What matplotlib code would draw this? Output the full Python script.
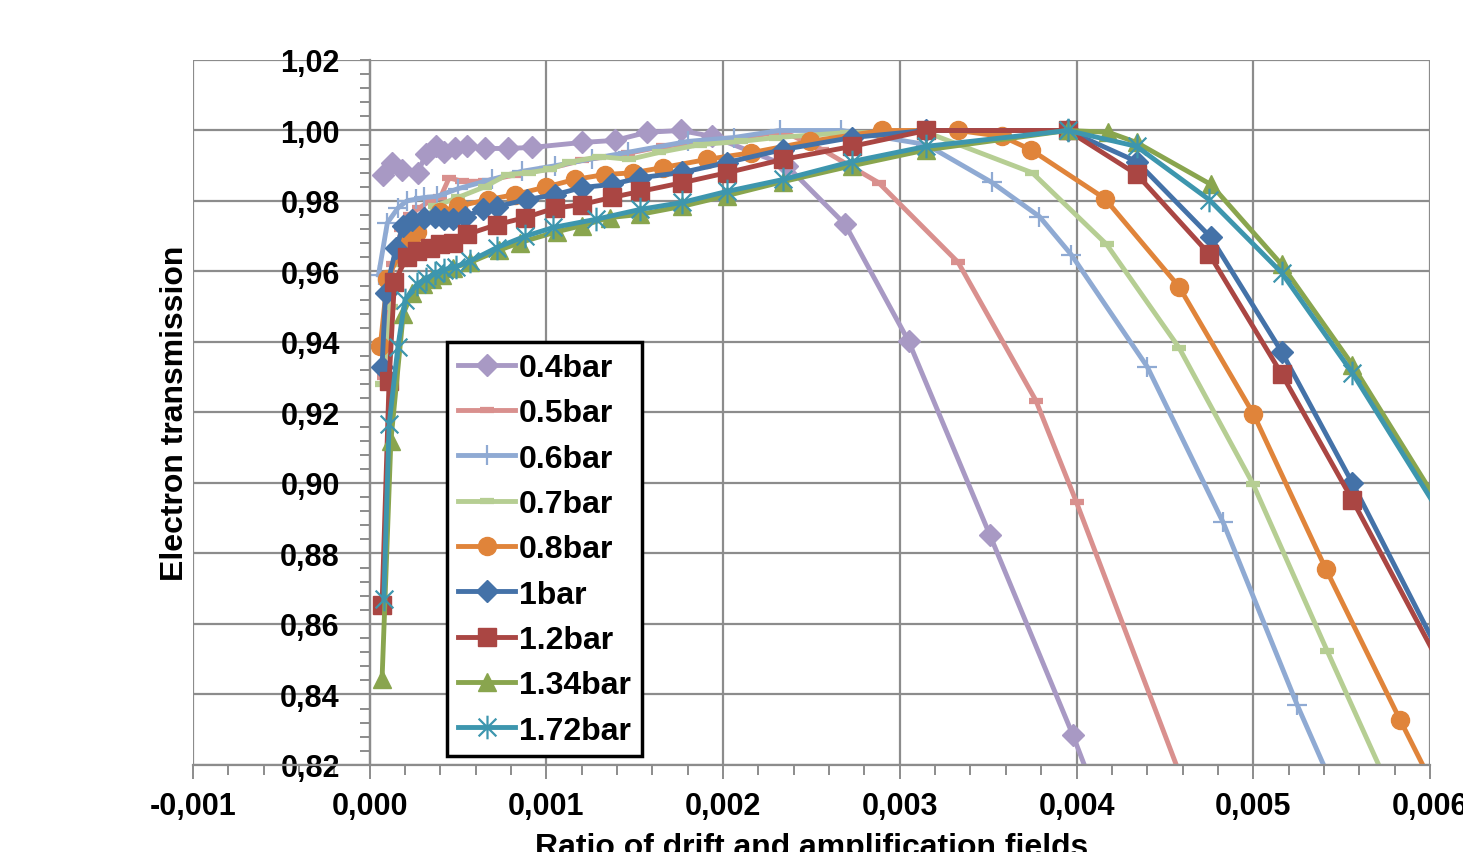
import numpy as np
import matplotlib.pyplot as plt
from matplotlib.path import Path
from matplotlib.ticker import MultipleLocator, FuncFormatter

plt.rcParams['font.family'] = ['Liberation Sans', 'DejaVu Sans']
plt.rcParams['font.weight'] = 'bold'

# x values in units of 1e-3 (ratio of drift and amplification fields)
x_04 = [0.074, 0.124, 0.181, 0.271, 0.317, 0.373, 0.419, 0.481, 0.549, 0.65, 0.78, 0.92,
        1.20, 1.39, 1.57, 1.76, 1.94, 2.36, 2.69, 3.05, 3.51, 3.98, 4.19]
y_04 = [0.9875, 0.9909, 0.9889, 0.9878, 0.9932, 0.9955, 0.9940, 0.9949, 0.9955, 0.9949, 0.9949, 0.9952,
        0.9966, 0.9972, 0.9995, 1.0000, 0.9983, 0.9900, 0.9734, 0.9402, 0.8852, 0.8284, 0.8009]

x_05 = [0.08, 0.13, 0.18, 0.23, 0.28, 0.34, 0.40, 0.45, 0.52, 0.65, 0.83, 1.00, 1.20, 1.46,
        1.66, 2.04, 2.34, 2.56, 2.88, 3.33, 3.77, 4.00, 4.80]
y_05 = [0.930, 0.962, 0.972, 0.976, 0.978, 0.980, 0.981, 0.9866, 0.9856, 0.9856, 0.9875, 0.9890, 0.9915, 0.9935,
        0.9955, 0.9975, 0.9997, 0.9946, 0.9852, 0.9626, 0.9234, 0.8945, 0.789]

x_06 = [0.05, 0.10, 0.16, 0.21, 0.26, 0.31, 0.38, 0.50, 0.69, 0.86, 1.05, 1.26, 1.46, 1.80,
        2.06, 2.32, 2.67, 3.15, 3.52, 3.79, 3.97, 4.40, 4.83, 5.25, 5.60]
y_06 = [0.959, 0.9738, 0.978, 0.980, 0.9805, 0.981, 0.9813, 0.9835, 0.9861, 0.9884, 0.990, 0.992, 0.9938, 0.9969,
        0.998, 1.000, 1.000, 0.996, 0.9853, 0.9756, 0.9648, 0.933, 0.8888, 0.8369, 0.797]

x_07 = [0.07, 0.12, 0.18, 0.25, 0.37, 0.50, 0.65, 0.78, 0.90, 1.02, 1.13, 1.30, 1.47, 1.64,
        1.87, 2.10, 2.30, 2.70, 3.15, 3.75, 4.17, 4.58, 5.00, 5.42, 5.84]
y_07 = [0.928, 0.950, 0.962, 0.970, 0.9785, 0.981, 0.984, 0.9875, 0.988, 0.989, 0.991, 0.9926, 0.9918, 0.9938,
        0.996, 0.9969, 0.998, 0.9994, 0.9995, 0.9880, 0.9677, 0.9384, 0.8996, 0.8522, 0.8056]

x_08 = [0.06, 0.10, 0.21, 0.27, 0.40, 0.50, 0.67, 0.82, 1.00, 1.16, 1.33, 1.49, 1.66, 1.91,
        2.16, 2.49, 2.90, 3.33, 3.58, 3.74, 4.16, 4.58, 5.00, 5.41, 5.83, 6.20]
y_08 = [0.9388, 0.958, 0.969, 0.9713, 0.977, 0.9785, 0.9804, 0.9818, 0.984, 0.9861, 0.9875, 0.988, 0.9895, 0.9918,
        0.9937, 0.9969, 1.000, 1.000, 0.9983, 0.9946, 0.9807, 0.9557, 0.9197, 0.8757, 0.8329, 0.796]

x_10 = [0.07, 0.09, 0.15, 0.19, 0.24, 0.31, 0.37, 0.42, 0.47, 0.54, 0.64, 0.72, 0.89, 1.05,
        1.20, 1.37, 1.53, 1.77, 2.02, 2.34, 2.73, 3.15, 3.95, 4.34, 4.76, 5.16, 5.56, 6.36]
y_10 = [0.933, 0.954, 0.9668, 0.9728, 0.9747, 0.9753, 0.9756, 0.9748, 0.9748, 0.9756, 0.9776, 0.9784, 0.9804, 0.9818,
        0.9838, 0.9847, 0.9866, 0.9881, 0.9909, 0.9946, 0.998, 1.000, 1.000, 0.9912, 0.9697, 0.9373, 0.9001, 0.8217]

x_12 = [0.07, 0.11, 0.14, 0.21, 0.27, 0.34, 0.40, 0.47, 0.55, 0.72, 0.88, 1.05, 1.20, 1.37,
        1.53, 1.77, 2.02, 2.34, 2.73, 3.15, 3.95, 4.34, 4.75, 5.16, 5.56, 6.36]
y_12 = [0.8655, 0.929, 0.957, 0.964, 0.9657, 0.9668, 0.9677, 0.968, 0.9705, 0.9733, 0.9753, 0.978, 0.979, 0.981,
        0.9827, 0.9852, 0.988, 0.9918, 0.9955, 1.000, 1.000, 0.9876, 0.965, 0.931, 0.8953, 0.8201]

x_134 = [0.07, 0.12, 0.19, 0.24, 0.30, 0.35, 0.41, 0.47, 0.57, 0.73, 0.85, 1.06, 1.20, 1.36,
         1.53, 1.77, 2.02, 2.34, 2.73, 3.15, 3.95, 4.18, 4.34, 4.76, 5.16, 5.56, 6.36]
y_134 = [0.8443, 0.912, 0.948, 0.954, 0.9565, 0.958, 0.959, 0.961, 0.9626, 0.966, 0.9682, 0.9713, 0.973, 0.9753,
         0.9762, 0.9785, 0.9815, 0.9855, 0.990, 0.9945, 1.000, 0.9995, 0.9966, 0.9847, 0.962, 0.9336, 0.869]

x_172 = [0.08, 0.11, 0.16, 0.20, 0.27, 0.32, 0.37, 0.42, 0.49, 0.57, 0.72, 0.88, 1.04, 1.28,
         1.53, 1.77, 2.02, 2.34, 2.73, 3.15, 3.95, 4.34, 4.75, 5.16, 5.56, 6.36]
y_172 = [0.867, 0.9166, 0.9387, 0.952, 0.9565, 0.958, 0.9595, 0.9605, 0.9614, 0.963, 0.9668, 0.970, 0.9725, 0.9748,
         0.9776, 0.9796, 0.9827, 0.9861, 0.9912, 0.9955, 1.000, 0.9955, 0.9804, 0.9597, 0.9313, 0.867]

labels = ['0.4bar', '0.5bar', '0.6bar', '0.7bar', '0.8bar', '1bar', '1.2bar', '1.34bar', '1.72bar']
colors = ['#A899C4', '#D9908E', '#8FAAD3', '#B6CE93', '#E0843A', '#4472A8', '#AA4643', '#89A54E', '#3D96AE']

# asterisk-like marker (x plus vertical bar)
star = Path([(0, -1), (0, 1), (-0.75, -0.75), (0.75, 0.75), (-0.75, 0.75), (0.75, -0.75)],
            [Path.MOVETO, Path.LINETO, Path.MOVETO, Path.LINETO, Path.MOVETO, Path.LINETO])

styles = [
    dict(marker='D', ms=11),
    dict(marker='_', ms=10, mew=4.5),
    dict(marker='+', ms=15, mew=1.6),
    dict(marker='_', ms=10, mew=4.5),
    dict(marker='o', ms=13),
    dict(marker='D', ms=11),
    dict(marker='s', ms=13),
    dict(marker='^', ms=13),
    dict(marker=star, ms=17, mew=1.6),
]

series = [(x_04, y_04), (x_05, y_05), (x_06, y_06), (x_07, y_07), (x_08, y_08),
          (x_10, y_10), (x_12, y_12), (x_134, y_134), (x_172, y_172)]

fig = plt.figure(figsize=(14.63, 8.53), dpi=100)
ax = fig.add_axes([0.1319, 0.1020, 0.8455, 0.8265])

for (xs, ys), lab, col, st in zip(series, labels, colors, styles):
    ax.plot(np.array(xs) * 1e-3, ys, color=col, lw=3.5, label=lab,
            mfc=col, mec=col, solid_joinstyle='round', **st)

ax.set_xlim(-0.001, 0.006)
ax.set_ylim(0.82, 1.02)

ax.xaxis.set_major_locator(MultipleLocator(0.001))
ax.xaxis.set_minor_locator(MultipleLocator(0.0002))
ax.yaxis.set_major_locator(MultipleLocator(0.02))
ax.yaxis.set_minor_locator(MultipleLocator(0.004))
ax.xaxis.set_major_formatter(FuncFormatter(lambda v, p: f"{v:.3f}".replace('.', ',')))
ax.yaxis.set_major_formatter(FuncFormatter(lambda v, p: f"{v:.2f}".replace('.', ',')))

grid_col = '#8C8C8C'
ax.grid(True, which='major', color=grid_col, lw=1.6, zorder=0)
ax.set_axisbelow(True)
ax.spines['top'].set_visible(False)
ax.spines['right'].set_visible(False)
ax.spines['left'].set_position(('data', 0))
for s in ['left', 'bottom']:
    ax.spines[s].set_color(grid_col)
    ax.spines[s].set_linewidth(1.6)

ax.tick_params(axis='both', which='both', direction='out', color=grid_col, width=1.4,
               labelsize=22, labelcolor='black')
ax.tick_params(axis='x', which='major', length=10, pad=8.5)
ax.tick_params(axis='x', which='minor', length=7)
ax.tick_params(axis='y', which='major', length=7, pad=14.5)
ax.tick_params(axis='y', which='minor', length=7)
for t in ax.get_xticklabels() + ax.get_yticklabels():
    t.set_fontweight('bold')

ax.set_xlabel('Ratio of drift and amplification fields', fontsize=23, fontweight='bold', labelpad=8)
ax.set_ylabel('Electron transmission', fontsize=23, fontweight='bold')
ax.yaxis.set_label_coords(-0.002, 0.5)

leg = ax.legend(loc='upper left', bbox_to_anchor=(0.2053, 0.600), borderaxespad=0,
                prop={'weight': 'bold', 'size': 23}, fancybox=False,
                edgecolor='black', framealpha=1, handlelength=1.8, handletextpad=0.12,
                labelspacing=0.48, borderpad=0.34, numpoints=1)
leg.get_frame().set_linewidth(2.5)

fig.savefig('out.png', dpi=100)
